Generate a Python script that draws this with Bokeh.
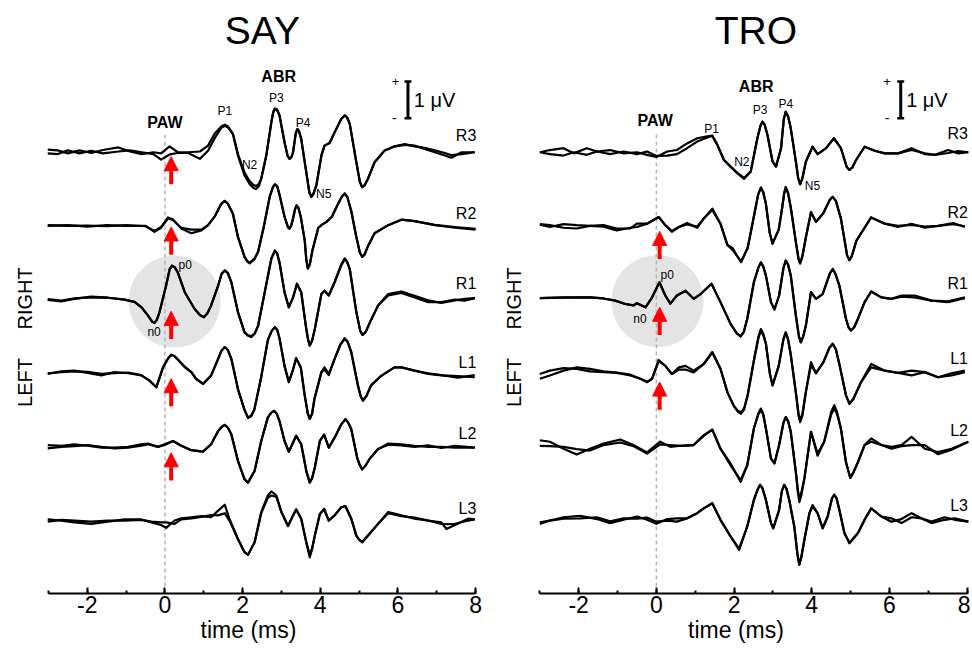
from math import pi
from bokeh.plotting import figure
from bokeh.models import Label, Arrow, NormalHead, SingleIntervalTicker
from bokeh.layouts import row
from bokeh.embed import file_html
from bokeh.resources import INLINE

FONT = "Liberation Sans"
TRACE_NAMES = ["R3", "R2", "R1", "L1", "L2", "L3"]
OFFSETS = [10, 8, 6, 4, 2, 0]          # stacking offset of each trace (µV)
X_TICKS = [-2, 0, 2, 4, 6, 8]
X_TICK_LABELS = ["-2", "0", "2", "4", "6", "8"]

# ---------- SAY : (time ms, run A µV, run B µV) ----------
SAY_R3 = [(-3.02, 0.07, -0.03), (-2.76, 0.05, -0.05), (-2.5, -0.03, 0.05), (-2.2, 0.05, -0.03), (-1.9, -0.02, 0.04),
          (-1.6, 0.06, -0.03), (-1.2, 0.13, 0.02), (-0.9, 0.02, 0.05), (-0.6, -0.05, 0.0), (-0.3, 0.0, -0.05),
          (-0.1, -0.03, -0.2), (0.12, 0.16, -0.06), (0.33, 0.0, -0.02), (0.6, 0.0, -0.02), (0.9, 0.02, -0.18),
          (1.11, 0.18, 0.04), (1.28, 0.5, 0.38), (1.45, 0.7, 0.66), (1.54, 0.75, 0.72), (1.62, 0.7, 0.68),
          (1.75, 0.5, 0.5), (1.88, -0.09, -0.05),
          (2.05, -0.63, -0.55), (2.18, -0.86, -0.78), (2.28, -0.97, -0.89), (2.35, -1.0, -0.92), (2.42, -0.92, -0.86),
          (2.48, -0.72, -0.72), (2.61, -0.09, -0.09),
          (2.74, 0.81, 0.81), (2.79, 1.1, 1.08), (2.83, 1.19, 1.17), (2.89, 1.16, 1.14), (2.95, 1.0, 1.0),
          (3.08, 0.27, 0.27), (3.16, -0.1, -0.1), (3.21, -0.18, -0.18), (3.26, -0.13, -0.13),
          (3.3, 0.0, 0.0), (3.37, 0.52, 0.52), (3.41, 0.63, 0.63), (3.45, 0.58, 0.58), (3.51, 0.36, 0.36),
          (3.64, -0.54, -0.54), (3.72, -1.1, -1.08), (3.77, -1.22, -1.2), (3.82, -1.15, -1.13),
          (3.9, -0.9, -0.9), (4.03, -0.09, -0.09), (4.11, 0.18, 0.18), (4.24, 0.25, 0.25), (4.37, 0.54, 0.54),
          (4.54, 0.9, 0.9), (4.63, 1.0, 1.0), (4.69, 0.95, 0.95), (4.76, 0.77, 0.77), (4.93, -0.27, -0.27),
          (5.02, -0.8, -0.8), (5.08, -0.95, -0.95), (5.14, -0.9, -0.9),
          (5.23, -0.72, -0.72), (5.4, -0.27, -0.27), (5.66, 0.05, 0.05), (5.92, 0.16, 0.16), (6.18, 0.2, 0.22),
          (6.43, 0.18, 0.16), (6.69, 0.09, 0.12), (6.95, 0.0, 0.05), (7.21, -0.09, -0.02), (7.38, -0.15, -0.08),
          (7.64, 0.0, -0.05), (7.98, 0.0, 0.0)]
SAY_R2 = [(-3.02, 0.0, 0.02), (-2.5, 0.02, 0.0), (-2.0, -0.02, 0.01), (-1.5, 0.02, -0.01), (-1.0, 0.0, 0.02),
          (-0.5, 0.0, -0.01), (-0.27, -0.16, -0.14), (-0.1, -0.05, -0.03), (0.08, 0.23, 0.2), (0.2, 0.18, 0.16),
          (0.42, -0.07, -0.05), (0.68, -0.2, -0.1), (0.94, -0.12, -0.1), (1.11, 0.02, 0.02), (1.28, 0.25, 0.25),
          (1.45, 0.6, 0.6), (1.54, 0.68, 0.68), (1.62, 0.6, 0.6), (1.75, 0.33, 0.33), (1.88, -0.3, -0.3),
          (2.05, -0.84, -0.84), (2.12, -0.97, -0.95), (2.18, -1.02, -1.0),
          (2.31, -0.9, -0.88), (2.4, -0.7, -0.7), (2.55, 0.0, 0.0), (2.7, 0.8, 0.8), (2.78, 1.05, 1.05),
          (2.83, 1.13, 1.13), (2.89, 1.08, 1.08),
          (2.95, 0.85, 0.85), (3.08, 0.25, 0.25), (3.17, -0.04, -0.04), (3.21, -0.07, -0.07), (3.25, 0.0, 0.0),
          (3.3, 0.2, 0.2), (3.35, 0.45, 0.45), (3.39, 0.56, 0.56), (3.44, 0.48, 0.48),
          (3.5, 0.24, 0.24), (3.6, -0.39, -0.39), (3.64, -0.9, -0.9), (3.68, -1.16, -1.16), (3.73, -1.05, -1.05),
          (3.8, -0.66, -0.66), (3.95, -0.05, -0.05),
          (4.03, 0.02, 0.02), (4.16, 0.11, 0.11), (4.3, 0.25, 0.25), (4.46, 0.6, 0.6), (4.56, 0.8, 0.8),
          (4.63, 0.88, 0.88), (4.7, 0.78, 0.78),
          (4.8, 0.4, 0.4), (4.93, -0.3, -0.3), (5.02, -0.72, -0.72), (5.08, -0.84, -0.84), (5.14, -0.78, -0.78),
          (5.23, -0.55, -0.55), (5.4, -0.2, -0.2),
          (5.75, 0.02, 0.02), (6.09, 0.17, 0.17), (6.43, 0.13, 0.13), (6.95, 0.02, 0.03), (7.47, -0.05, -0.03),
          (8.0, -0.1, -0.08)]
SAY_R1 = [(-3.02, -0.01, 0.01), (-2.67, -0.05, -0.03), (-2.33, 0.02, 0.03), (-1.9, 0.08, 0.06), (-1.47, 0.05, 0.05),
          (-1.04, 0.0, 0.0), (-0.78, -0.07, -0.06), (-0.61, -0.21, -0.2), (-0.44, -0.43, -0.43),
          (-0.33, -0.6, -0.6), (-0.27, -0.63, -0.63), (-0.21, -0.55, -0.55),
          (-0.14, -0.34, -0.34), (0.03, 0.38, 0.38), (0.12, 0.82, 0.82), (0.18, 0.92, 0.92), (0.25, 0.88, 0.88),
          (0.33, 0.74, 0.74), (0.51, 0.2, 0.2),
          (0.76, -0.25, -0.25), (0.9, -0.42, -0.42), (1.0, -0.48, -0.48), (1.09, -0.38, -0.38),
          (1.19, -0.16, -0.16), (1.37, 0.38, 0.38), (1.46, 0.7, 0.7), (1.54, 0.79, 0.79), (1.62, 0.72, 0.72),
          (1.71, 0.47, 0.47), (1.88, -0.34, -0.34), (2.05, -0.89, -0.89), (2.14, -0.98, -0.97), (2.22, -1.02, -1.0),
          (2.31, -0.93, -0.92), (2.4, -0.71, -0.71),
          (2.57, 0.2, 0.2), (2.74, 1.11, 1.11), (2.83, 1.33, 1.33), (2.89, 1.25, 1.25), (2.95, 1.01, 1.01),
          (3.08, 0.2, 0.2),
          (3.19, -0.21, -0.21), (3.3, 0.06, 0.06), (3.4, 0.43, 0.43), (3.51, 0.2, 0.2), (3.64, -0.8, -0.8),
          (3.69, -1.1, -1.1), (3.73, -1.25, -1.25), (3.79, -1.12, -1.12),
          (3.86, -0.8, -0.8), (4.03, 0.15, 0.15), (4.11, 0.24, 0.24), (4.22, 0.11, 0.11),
          (4.37, 0.47, 0.47), (4.54, 0.92, 0.95), (4.63, 1.1, 1.12), (4.69, 1.02, 1.03), (4.76, 0.83, 0.83),
          (4.93, -0.34, -0.34), (5.03, -0.85, -0.85), (5.09, -0.96, -0.96), (5.17, -0.88, -0.88),
          (5.28, -0.62, -0.62), (5.49, -0.16, -0.16), (5.75, 0.11, 0.15), (6.09, 0.18, 0.22),
          (6.43, 0.06, 0.1), (6.78, -0.07, -0.02), (7.12, -0.07, -0.09), (7.47, 0.0, -0.02), (7.72, -0.03, 0.02),
          (7.98, 0.04, 0.04)]
SAY_L1 = [(-3.02, -0.02, 0.0), (-2.67, 0.05, 0.03), (-2.33, 0.07, 0.05), (-1.99, 0.01, 0.04), (-1.64, -0.06, -0.02),
          (-1.3, 0.03, 0.0), (-0.95, 0.0, 0.02), (-0.61, -0.06, -0.05), (-0.4, -0.2, -0.2), (-0.22, -0.38, -0.38),
          (-0.05, 0.16, 0.16), (0.08, 0.4, 0.4), (0.16, 0.5, 0.5), (0.24, 0.47, 0.47), (0.33, 0.37, 0.37),
          (0.51, 0.16, 0.18), (0.68, 0.03, 0.03),
          (0.8, -0.15, -0.15), (0.98, -0.29, -0.29), (1.19, -0.06, -0.06), (1.37, 0.39, 0.39), (1.46, 0.62, 0.62),
          (1.54, 0.71, 0.71), (1.62, 0.63, 0.63),
          (1.71, 0.39, 0.39), (1.88, -0.43, -0.43), (2.05, -1.0, -1.0), (2.14, -1.22, -1.2), (2.22, -1.17, -1.15),
          (2.3, -1.0, -1.0),
          (2.48, -0.1, -0.1), (2.65, 0.9, 0.9), (2.75, 1.15, 1.15), (2.83, 1.25, 1.25), (2.89, 1.18, 1.18),
          (2.95, 0.95, 0.95), (3.08, 0.2, 0.2),
          (3.19, -0.24, -0.24), (3.3, 0.1, 0.1), (3.38, 0.41, 0.41), (3.5, 0.15, 0.15), (3.6, -0.6, -0.6),
          (3.68, -1.1, -1.1), (3.73, -1.24, -1.24), (3.79, -1.1, -1.1),
          (3.85, -0.7, -0.7), (4.03, 0.03, 0.03), (4.11, 0.16, 0.1), (4.22, -0.02, -0.05),
          (4.37, 0.39, 0.39), (4.52, 0.78, 0.78), (4.63, 0.93, 0.95), (4.7, 0.86, 0.87), (4.8, 0.57, 0.57),
          (4.97, -0.33, -0.33), (5.04, -0.62, -0.62), (5.1, -0.74, -0.74), (5.19, -0.62, -0.62),
          (5.31, -0.33, -0.33), (5.57, -0.07, -0.07), (5.91, 0.16, 0.16), (6.09, 0.16, 0.16), (6.43, 0.07, 0.07),
          (6.78, -0.02, 0.0), (7.12, -0.06, -0.05), (7.55, -0.08, -0.12), (7.98, -0.11, -0.05)]
SAY_L2 = [(-3.02, 0.05, -0.04), (-2.67, 0.03, 0.0), (-2.33, 0.07, 0.02), (-1.99, 0.03, 0.05), (-1.64, -0.02, 0.0),
          (-1.3, -0.02, -0.04), (-0.95, 0.0, -0.02), (-0.61, 0.07, 0.03), (-0.44, 0.09, 0.07), (-0.18, 0.0, 0.0),
          (-0.01, 0.07, 0.05), (0.21, 0.16, 0.16), (0.42, 0.03, 0.03), (0.68, -0.09, -0.09), (0.98, -0.13, -0.13),
          (1.19, 0.07, 0.07), (1.37, 0.43, 0.43), (1.46, 0.54, 0.54), (1.54, 0.6, 0.6), (1.62, 0.52, 0.52),
          (1.71, 0.34, 0.34), (1.88, -0.38, -0.38),
          (2.05, -0.88, -0.88), (2.14, -0.97, -0.97), (2.31, -0.65, -0.65), (2.48, 0.16, 0.16), (2.65, 0.8, 0.8),
          (2.74, 0.93, 0.93), (2.81, 0.98, 0.98), (2.88, 0.9, 0.9),
          (2.95, 0.7, 0.7), (3.08, 0.16, 0.16), (3.19, -0.13, -0.13), (3.3, 0.12, 0.12),
          (3.38, 0.3, 0.3), (3.51, 0.07, 0.07), (3.64, -0.65, -0.65), (3.73, -0.97, -0.97), (3.79, -0.85, -0.85),
          (3.86, -0.56, -0.56),
          (3.99, 0.16, 0.16), (4.1, 0.33, 0.33), (4.22, -0.02, -0.02), (4.37, 0.25, 0.25), (4.54, 0.61, 0.61),
          (4.65, 0.75, 0.75), (4.72, 0.66, 0.66), (4.8, 0.48, 0.48), (4.95, -0.29, -0.29), (5.02, -0.5, -0.5),
          (5.08, -0.61, -0.61), (5.16, -0.52, -0.52), (5.27, -0.33, -0.33),
          (5.49, -0.06, -0.06), (5.75, 0.09, 0.06), (6.09, 0.07, 0.04), (6.43, 0.03, 0.0), (6.78, 0.0, 0.04),
          (7.12, 0.0, -0.03), (7.47, -0.02, 0.03), (7.98, -0.02, -0.02)]
SAY_L3 = [(-3.02, 0.03, -0.03), (-2.67, 0.0, 0.02), (-2.33, -0.05, 0.0), (-1.9, -0.09, -0.03), (-1.47, -0.03, 0.0),
          (-1.04, 0.03, 0.0), (-0.61, 0.03, 0.02), (-0.35, -0.05, -0.03), (-0.1, -0.12, -0.05), (0.03, -0.2, -0.05),
          (0.25, 0.0, -0.09), (0.42, 0.06, 0.03), (0.68, 0.09, 0.06), (0.94, 0.12, 0.1), (1.19, 0.09, 0.15),
          (1.37, 0.27, 0.14), (1.54, 0.43, 0.2), (1.66, 0.05, 0.0), (1.88, -0.5, -0.5), (2.05, -0.86, -0.86),
          (2.14, -0.93, -0.93), (2.31, -0.59, -0.59), (2.48, 0.23, 0.2), (2.65, 0.68, 0.62), (2.74, 0.79, 0.68),
          (2.87, 0.68, 0.64), (3.0, 0.23, 0.23), (3.17, -0.15, -0.15), (3.3, 0.14, 0.14), (3.38, 0.3, 0.3),
          (3.51, 0.05, 0.05), (3.64, -0.59, -0.59), (3.73, -0.93, -1.0), (3.79, -0.75, -0.78), (3.86, -0.41, -0.41),
          (3.99, 0.18, 0.18),
          (4.1, 0.32, 0.3), (4.22, 0.0, 0.0), (4.37, 0.14, 0.14), (4.54, 0.36, 0.36), (4.65, 0.39, 0.39),
          (4.8, 0.05, 0.05), (4.93, -0.41, -0.41), (5.0, -0.52, -0.52), (5.08, -0.59, -0.59), (5.27, -0.36, -0.36),
          (5.49, -0.09, -0.09),
          (5.75, 0.23, 0.2), (6.09, 0.14, 0.12), (6.43, 0.05, 0.08), (6.78, 0.0, 0.0), (7.12, -0.09, -0.05),
          (7.25, -0.1, -0.23), (7.47, -0.09, -0.12), (7.81, 0.0, 0.05), (7.98, 0.03, 0.03)]

# ---------- TRO : (time ms, run A µV, run B µV) ----------
TRO_R3 = [(-3.0, 0.0, 0.0), (-2.74, 0.06, -0.05), (-2.39, 0.11, -0.09), (-2.13, -0.03, 0.0), (-1.79, 0.11, -0.07),
          (-1.53, 0.02, 0.02), (-1.19, 0.06, -0.05), (-0.84, -0.03, 0.02), (-0.5, 0.0, -0.05), (-0.24, -0.07, 0.02),
          (0.0, -0.13, -0.1), (0.28, 0.02, -0.09), (0.53, 0.06, -0.05), (0.79, 0.24, 0.11), (1.05, 0.38, 0.29),
          (1.31, 0.43, 0.4), (1.44, 0.45, 0.45), (1.57, 0.2, 0.2), (1.74, -0.21, -0.21), (1.91, -0.39, -0.39),
          (2.08, -0.57, -0.55), (2.26, -0.72, -0.7), (2.43, -0.52, -0.52), (2.6, 0.38, 0.38), (2.68, 0.72, 0.72),
          (2.73, 0.83, 0.83), (2.79, 0.74, 0.74),
          (2.86, 0.47, 0.47), (2.99, -0.25, -0.25), (3.08, -0.39, -0.39), (3.21, 0.11, 0.11), (3.28, 0.9, 0.9),
          (3.33, 1.1, 1.1), (3.39, 0.98, 0.98),
          (3.46, 0.65, 0.65), (3.59, -0.25, -0.25), (3.65, -0.7, -0.7), (3.7, -0.87, -0.87), (3.76, -0.7, -0.7),
          (3.85, -0.25, -0.25), (4.02, 0.15, 0.15),
          (4.15, -0.05, -0.05), (4.37, 0.11, 0.11), (4.57, 0.38, 0.38), (4.75, 0.11, 0.11), (4.9, -0.4, -0.4),
          (4.97, -0.48, -0.48), (5.04, -0.42, -0.42),
          (5.14, -0.21, -0.21), (5.36, 0.15, 0.15), (5.62, 0.04, 0.04), (5.88, -0.03, -0.03), (6.22, -0.03, -0.03),
          (6.57, 0.11, 0.06), (6.91, -0.05, -0.03), (7.17, -0.07, -0.07), (7.51, 0.06, -0.02), (7.77, -0.03, 0.03),
          (8.03, 0.0, 0.0)]
TRO_R2 = [(-3.0, 0.05, 0.03), (-2.74, 0.02, -0.03), (-2.39, -0.05, 0.05), (-2.05, -0.07, 0.02), (-1.71, 0.0, 0.0),
          (-1.36, 0.02, -0.02), (-1.02, -0.07, -0.12), (-0.67, -0.07, -0.05), (-0.5, 0.06, -0.03), (-0.24, 0.06, 0.06),
          (0.06, 0.24, 0.24), (0.23, 0.02, 0.02), (0.4, -0.16, -0.14), (0.58, -0.03, -0.03), (0.79, 0.08, 0.04),
          (1.05, -0.05, -0.02), (1.22, 0.2, 0.2), (1.44, 0.47, 0.43), (1.65, 0.06, 0.06), (1.83, -0.52, -0.52),
          (1.96, -0.6, -0.65), (2.1, -0.85, -0.85), (2.18, -0.98, -0.98), (2.35, -0.6, -0.6), (2.5, 0.2, 0.2),
          (2.62, 0.85, 0.85), (2.69, 1.04, 1.04), (2.75, 0.92, 0.92),
          (2.82, 0.6, 0.6), (2.92, -0.2, -0.2), (2.99, -0.48, -0.48), (3.15, -0.1, -0.1),
          (3.24, 0.5, 0.5), (3.29, 0.9, 0.88), (3.33, 1.06, 1.03), (3.39, 0.9, 0.88), (3.46, 0.5, 0.5),
          (3.6, -0.5, -0.5), (3.66, -0.9, -0.9), (3.7, -1.02, -1.02), (3.76, -0.82, -0.82),
          (3.85, -0.3, -0.3), (3.98, 0.38, 0.36), (4.11, 0.11, 0.11), (4.3, 0.35, 0.35), (4.46, 0.7, 0.7),
          (4.54, 0.79, 0.79), (4.62, 0.68, 0.68),
          (4.75, 0.2, 0.2), (4.91, -0.8, -0.8), (4.97, -0.93, -0.93), (5.03, -0.82, -0.82),
          (5.15, -0.4, -0.4), (5.36, -0.05, -0.05), (5.53, 0.23, 0.23),
          (5.88, 0.06, 0.06), (6.22, -0.03, 0.0), (6.57, 0.06, 0.03), (6.91, -0.05, -0.02), (7.25, 0.0, 0.0),
          (7.64, 0.08, 0.05), (7.94, -0.03, -0.01)]
TRO_R1 = [(-3.0, 0.04, 0.04), (-2.39, 0.06, 0.05), (-1.71, 0.06, 0.06), (-1.36, 0.03, 0.03), (-1.06, -0.03, -0.03),
          (-0.8, -0.12, -0.12), (-0.59, -0.16, -0.16), (-0.5, -0.1, -0.1), (-0.28, -0.21, -0.21), (-0.11, 0.06, 0.06),
          (0.08, 0.47, 0.47), (0.23, 0.11, 0.11), (0.36, -0.11, -0.11), (0.53, 0.11, 0.11), (0.75, 0.24, 0.24),
          (0.96, 0.02, 0.02), (1.14, 0.15, 0.15), (1.42, 0.43, 0.43), (1.65, -0.07, -0.07), (1.91, -0.66, -0.66),
          (2.07, -0.92, -0.92), (2.17, -1.0, -1.0), (2.25, -0.88, -0.88),
          (2.34, -0.52, -0.52), (2.51, 0.47, 0.47), (2.63, 0.88, 0.88), (2.69, 1.01, 1.01), (2.75, 0.9, 0.9),
          (2.82, 0.65, 0.65),
          (2.95, -0.07, -0.07), (3.04, -0.27, -0.27), (3.16, 0.11, 0.11), (3.27, 0.85, 0.85), (3.33, 1.06, 1.06),
          (3.39, 0.95, 0.95), (3.46, 0.65, 0.65),
          (3.59, -0.43, -0.43), (3.67, -1.0, -1.0), (3.72, -1.16, -1.16), (3.78, -1.0, -1.0), (3.85, -0.7, -0.7),
          (3.98, 0.2, 0.2), (4.11, 0.02, 0.02),
          (4.28, 0.15, 0.15), (4.47, 0.72, 0.72), (4.54, 0.83, 0.83), (4.61, 0.7, 0.7), (4.71, 0.38, 0.38),
          (4.88, -0.52, -0.52), (4.95, -0.76, -0.76), (5.01, -0.84, -0.84), (5.09, -0.76, -0.76),
          (5.19, -0.52, -0.52), (5.36, -0.07, -0.07), (5.53, 0.22, 0.22), (5.79, 0.06, 0.06), (6.05, 0.02, 0.02),
          (6.31, 0.11, 0.08), (6.65, 0.11, 0.06), (7.08, -0.03, -0.03), (7.51, -0.07, -0.05), (7.94, 0.04, 0.06)]
TRO_L1 = [(-3.0, -0.02, -0.15), (-2.74, 0.07, -0.06), (-2.39, 0.14, 0.07), (-2.05, 0.12, 0.16), (-1.71, 0.05, 0.12),
          (-1.36, 0.03, 0.05), (-1.02, 0.01, 0.02), (-0.67, -0.06, -0.04), (-0.41, -0.15, -0.15), (-0.24, -0.24, -0.24),
          (-0.11, -0.15, -0.15), (0.06, 0.36, 0.33), (0.23, 0.2, 0.2), (0.4, -0.02, -0.02), (0.58, 0.16, 0.1),
          (0.75, 0.2, 0.1), (0.96, 0.07, 0.02), (1.22, 0.25, 0.25), (1.44, 0.57, 0.57), (1.65, 0.12, 0.12),
          (1.83, -0.52, -0.52), (2.0, -0.9, -0.9), (2.1, -1.05, -1.02), (2.18, -1.1, -1.06), (2.26, -0.98, -0.95),
          (2.35, -0.6, -0.6), (2.52, 0.4, 0.4),
          (2.63, 1.0, 0.97), (2.69, 1.2, 1.15), (2.75, 1.08, 1.04), (2.82, 0.8, 0.8), (2.92, 0.0, 0.0),
          (2.99, -0.33, -0.33), (3.15, 0.2, 0.2),
          (3.27, 0.92, 0.92), (3.33, 1.11, 1.11), (3.39, 0.92, 0.92), (3.46, 0.5, 0.5), (3.6, -0.6, -0.6),
          (3.66, -1.15, -1.1), (3.7, -1.33, -1.28), (3.76, -1.15, -1.1), (3.85, -0.5, -0.5),
          (3.98, 0.3, 0.22), (4.11, 0.0, 0.0), (4.3, 0.3, 0.3), (4.46, 0.7, 0.7), (4.54, 0.8, 0.8),
          (4.62, 0.65, 0.65), (4.72, 0.2, 0.2), (4.88, -0.6, -0.6),
          (4.97, -0.83, -0.83), (5.07, -0.7, -0.7), (5.27, -0.24, -0.24), (5.53, 0.25, 0.16), (5.88, 0.07, 0.07),
          (6.22, 0.01, 0.01),
          (6.57, 0.07, -0.06), (6.91, 0.03, 0.03), (7.25, -0.11, -0.11), (7.6, -0.06, 0.0), (7.94, 0.03, 0.07)]
TRO_L2 = [(-3.0, 0.18, 0.03), (-2.74, 0.14, 0.02), (-2.39, -0.05, 0.0), (-2.05, -0.21, -0.06), (-1.71, -0.05, -0.1),
          (-1.36, 0.09, 0.05), (-0.93, 0.2, 0.12), (-0.59, 0.05, 0.02), (-0.24, -0.15, -0.18), (0.1, 0.14, 0.07),
          (0.36, 0.0, 0.05), (0.62, 0.03, 0.03), (0.96, 0.05, 0.05), (1.22, 0.32, 0.3), (1.44, 0.47, 0.47),
          (1.65, -0.05, -0.05), (1.91, -0.5, -0.45), (2.17, -0.9, -0.95), (2.34, -0.5, -0.5), (2.51, 0.5, 0.5),
          (2.63, 0.92, 0.9), (2.69, 1.04, 1.0), (2.75, 0.9, 0.88),
          (2.82, 0.5, 0.5), (2.95, -0.32, -0.32), (3.04, -0.45, -0.45), (3.16, 0.05, 0.05),
          (3.27, 0.65, 0.65), (3.33, 0.81, 0.81), (3.39, 0.7, 0.7), (3.46, 0.41, 0.41), (3.59, -0.68, -0.68),
          (3.64, -1.15, -1.2), (3.68, -1.4, -1.5), (3.73, -1.25, -1.32), (3.81, -0.86, -0.86),
          (3.98, 0.41, 0.41), (4.15, -0.18, -0.24), (4.32, 0.14, 0.14), (4.5, 0.95, 0.88), (4.58, 1.13, 1.04),
          (4.65, 0.95, 0.9), (4.75, 0.5, 0.5),
          (4.88, -0.41, -0.41), (4.99, -0.84, -0.84), (5.07, -0.7, -0.7), (5.19, -0.41, -0.41), (5.36, 0.05, 0.05),
          (5.53, 0.23, 0.14),
          (5.79, 0.05, 0.05), (6.05, 0.0, -0.05), (6.31, 0.05, 0.02), (6.57, 0.27, 0.05), (6.91, -0.05, 0.05),
          (7.25, -0.14, -0.2), (7.6, -0.05, -0.08), (8.03, 0.14, 0.14)]
TRO_L3 = [(-3.0, -0.09, -0.05), (-2.74, 0.0, 0.0), (-2.39, 0.09, 0.05), (-1.96, 0.13, 0.06), (-1.53, 0.04, 0.09),
          (-1.19, -0.07, -0.02), (-0.84, 0.02, 0.06), (-0.5, 0.11, 0.05), (-0.24, 0.02, 0.08), (0.0, -0.09, -0.03),
          (0.28, 0.04, 0.0), (0.53, 0.06, -0.03), (0.79, 0.06, 0.06), (1.05, 0.2, 0.2), (1.22, 0.33, 0.33),
          (1.44, 0.47, 0.47), (1.65, 0.02, 0.02), (1.91, -0.43, -0.43), (2.13, -0.8, -0.76), (2.34, -0.16, -0.16),
          (2.51, 0.56, 0.56), (2.61, 0.85, 0.85), (2.67, 0.97, 0.97), (2.73, 0.88, 0.88), (2.82, 0.56, 0.56),
          (2.95, -0.07, -0.07), (3.01, -0.21, -0.21),
          (3.16, 0.29, 0.29), (3.23, 0.8, 0.8), (3.29, 0.97, 0.97), (3.35, 0.86, 0.86), (3.42, 0.56, 0.56),
          (3.55, -0.16, -0.16), (3.63, -0.9, -0.9), (3.68, -1.2, -1.2), (3.73, -1.0, -1.0),
          (3.81, -0.52, -0.52), (3.94, 0.2, 0.2), (4.02, 0.42, 0.38), (4.15, 0.2, 0.2), (4.28, -0.21, -0.21),
          (4.41, 0.11, 0.11), (4.52, 0.6, 0.6), (4.58, 0.7, 0.7), (4.64, 0.6, 0.6), (4.71, 0.29, 0.29),
          (4.84, -0.34, -0.34), (4.97, -0.62, -0.6),
          (5.19, -0.34, -0.34), (5.36, 0.02, 0.02), (5.53, 0.33, 0.33), (5.79, 0.11, 0.11), (6.05, -0.03, 0.06),
          (6.31, 0.04, -0.07), (6.57, 0.2, 0.09), (6.82, 0.06, 0.06), (7.08, -0.07, -0.03), (7.42, 0.02, 0.09),
          (7.68, 0.06, 0.02), (8.03, -0.03, -0.03)]

SAY_TRACES = [SAY_R3, SAY_R2, SAY_R1, SAY_L1, SAY_L2, SAY_L3]
TRO_TRACES = [TRO_R3, TRO_R2, TRO_R1, TRO_L1, TRO_L2, TRO_L3]

# peak labels (text, time, level)
SAY_PEAKS = [("P1", 1.54, 11.11), ("N2", 2.18, 9.66), ("P3", 2.87, 11.48), ("P4", 3.56, 10.80), ("N5", 4.09, 8.87)]
TRO_PEAKS = [("P1", 1.42, 10.64), ("N2", 2.20, 9.73), ("P3", 2.67, 11.15), ("P4", 3.33, 11.31), ("N5", 4.02, 9.07)]
SAY_NAME_Y = [10.45, 8.34, 6.44, 4.30, 2.36, 0.32]
TRO_NAME_Y = [10.51, 8.37, 6.44, 4.40, 2.44, 0.41]
SAY_ARROW_TIPS = [9.88, 7.97, 5.68, 3.85, 1.84]
TRO_ARROW_TIPS = [7.85, 5.79, 3.76]

Y_RANGE = (-1.981, 13.903)


def panel(title, traces, name_y, peaks, arrow_x, arrow_tips, circle_xy, p0_xy, n0_xy,
          paw_xy, abr_xy, bar, plus_xy, minus_xy, uv_xy, side_x, x_range, frame_w, border_l, title_x):
    p = figure(frame_width=frame_w, frame_height=585, x_range=x_range, y_range=Y_RANGE,
               output_backend="svg", toolbar_location=None, y_axis_location=None,
               min_border_left=border_l, min_border_right=0, min_border_top=8, min_border_bottom=48)
    p.grid.visible = False
    p.outline_line_color = None

    ax = p.xaxis[0]
    ax.ticker = SingleIntervalTicker(interval=2, num_minor_ticks=2)
    ax.major_label_overrides = dict(zip(X_TICKS, X_TICK_LABELS))
    ax.bounds = (-3, 8)
    ax.axis_line_width = 2
    ax.major_tick_in = 6
    ax.major_tick_out = 0
    ax.minor_tick_in = 3
    ax.minor_tick_out = 0
    ax.major_tick_line_width = 2
    ax.minor_tick_line_width = 2
    ax.major_label_text_font = FONT
    ax.major_label_text_font_size = "23px"
    ax.major_label_text_color = "black"
    ax.major_label_standoff = 2
    ax.axis_label = "time (ms)"
    ax.axis_label_text_font = FONT
    ax.axis_label_text_font_size = "23px"
    ax.axis_label_text_font_style = "normal"
    ax.axis_label_text_color = "black"
    ax.axis_label_standoff = 1

    # grey highlight circle
    p.scatter([circle_xy[0]], [circle_xy[1]], size=92, marker="circle",
              fill_color="#e4e4e4", line_color=None)
    # stimulus dashed line
    p.segment(x0=[0], y0=[Y_RANGE[0]], x1=[0], y1=[10.48], line_color="#b5b5b5",
              line_width=1.5, line_dash="4 3")

    for off, data in zip(OFFSETS, traces):
        t = [d[0] for d in data]
        a = [d[1] + off for d in data]
        b = [d[2] + off for d in data]
        p.line(t, b, line_color="black", line_width=2.2, line_join="round")
        p.line(t, a, line_color="black", line_width=2.2, line_join="round")

    for tip in arrow_tips:
        p.add_layout(Arrow(end=NormalHead(size=14, fill_color="red", line_color="red", line_width=1),
                           x_start=arrow_x, y_start=tip - 0.75, x_end=arrow_x, y_end=tip,
                           line_color="red", line_width=4))

    def lab(text, x, y, size, align="center", style="normal", angle=0.0):
        p.add_layout(Label(x=x, y=y, text=text, text_font=FONT, text_font_size=size,
                           text_align=align, text_baseline="middle", text_font_style=style,
                           text_color="black", angle=angle))

    lab(title, title_x, 13.31, "39px")
    for name, y in zip(TRACE_NAMES, name_y):
        lab(name, 8.02, y, "16px", align="right")
    for txt, x, y in peaks:
        lab(txt, x, y, "12px")
    lab("p0", p0_xy[0], p0_xy[1], "12px")
    lab("n0", n0_xy[0], n0_xy[1], "12px")
    lab("PAW", paw_xy[0], paw_xy[1], "16px", style="bold")
    lab("ABR", abr_xy[0], abr_xy[1], "16px", style="bold")

    bx, b0, b1 = bar
    p.segment(x0=[bx], y0=[b0], x1=[bx], y1=[b1], line_color="black", line_width=3)
    p.segment(x0=[bx - 0.09, bx - 0.09], y0=[b0, b1], x1=[bx + 0.09, bx + 0.09], y1=[b0, b1],
              line_color="black", line_width=2.5)
    lab("+", plus_xy[0], plus_xy[1], "13px")
    lab("-", minus_xy[0], minus_xy[1], "14px")
    lab("1 μV", uv_xy[0], uv_xy[1], "20px", align="left")

    lab("RIGHT", side_x, 6.03, "20px", angle=pi / 2)
    lab("LEFT", side_x, 3.75, "20px", angle=pi / 2)
    return p


p_say = panel("SAY", SAY_TRACES, SAY_NAME_Y, SAY_PEAKS, 0.16, SAY_ARROW_TIPS, (0.25, 5.95),
              (0.52, 6.95), (-0.28, 5.13), (0.0, 10.82), (2.93, 12.06), (6.26, 10.92, 11.92),
              (5.94, 11.93), (5.91, 10.93), (6.41, 11.42), -3.618,
              (-3.953, 8.257), 474, 11, 2.51)
p_tro = panel("TRO", TRO_TRACES, TRO_NAME_Y, TRO_PEAKS, 0.085, TRO_ARROW_TIPS, (0.03, 5.96),
              (0.28, 6.68), (-0.42, 5.47), (-0.03, 10.86), (2.57, 11.78), (6.29, 10.92, 11.92),
              (5.94, 11.93), (5.94, 10.93), (6.43, 11.42), -3.677,
              (-3.986, 8.086), 469, 16, 2.56)

layout = row(p_say, p_tro)
open("out.html", "w").write(file_html(layout, INLINE))
